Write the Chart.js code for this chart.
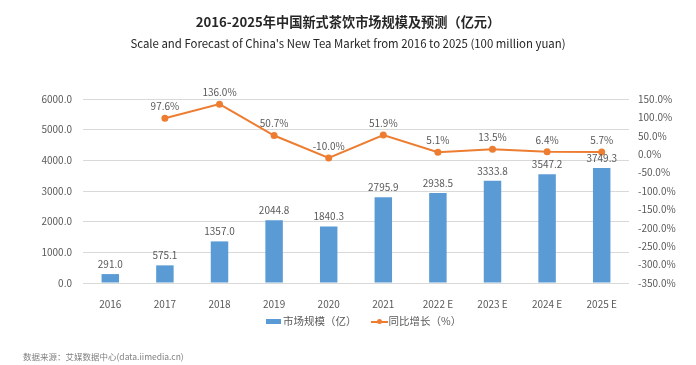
<!DOCTYPE html>
<html>
<head>
<meta charset="utf-8">
<script src="https://cdn.jsdelivr.net/npm/chart.js@4/dist/chart.umd.min.js"></script>
<style>
    body { margin: 0; background: #fff; }
    #wrap { position: relative; width: 696px; height: 365px; font-family: "Noto Sans CJK SC", "Noto Sans", sans-serif; }
    #chart { position: absolute; left: 0; top: 0; }
    .title { position: absolute; left: 0; width: 696px; text-align: center; color: #262626; white-space: nowrap; }
    #t1 { top: 12px; font-size: 13.2px; font-weight: bold; line-height: 20px; }
    #t2 { top: 34px; font-size: 11.4px; line-height: 18px; }
    #legend { position: absolute; top: 312px; left: 266px; font-size: 10.5px; color: #595959; white-space: nowrap; line-height: 16px; }
    #legend span { display: inline-block; vertical-align: middle; }
    .sw-bar { width: 15px; height: 5px; background: #5B9BD5; margin-right: 2px; }
    .sw-line { width: 17px; height: 7px; position: relative; margin-left: 14px; margin-right: 1px; }
    .sw-line:before { content: ""; position: absolute; left: 0; right: 0; top: 3px; height: 2px; background: #ED7D31; }
    .sw-line:after { content: ""; position: absolute; left: 6px; top: 1px; width: 5px; height: 5px; border-radius: 50%; background: #ED7D31; }
    #source { position: absolute; left: 23px; top: 350px; font-size: 8.5px; color: #808080; white-space: nowrap; }
</style>
</head>
<body>
<div id="wrap">
    <canvas id="chart" width="696" height="365"></canvas>
    <div class="title" id="t1">2016-2025年中国新式茶饮市场规模及预测（亿元）</div>
    <div class="title" id="t2">Scale and Forecast of China's New Tea Market from 2016 to 2025 (100 million yuan)</div>
    <div id="legend"><span class="sw-bar"></span><span>市场规模（亿）</span><span class="sw-line"></span><span>同比增长（%）</span></div>
    <div id="source">数据来源：艾媒数据中心(data.iimedia.cn)</div>
</div>
<script>
const years = ['2016', '2017', '2018', '2019', '2020', '2021', '2022 E', '2023 E', '2024 E', '2025 E'];
const marketSize = [291.0, 575.1, 1357.0, 2044.8, 1840.3, 2795.9, 2938.5, 3333.8, 3547.2, 3749.3];
const growthRate = [null, 97.6, 136.0, 50.7, -10.0, 51.9, 5.1, 13.5, 6.4, 5.7];

const labelColor = '#595959';
const tickFont = { family: '"Noto Sans CJK SC", "Noto Sans", sans-serif', size: 10 };

// draw value labels above bars and points
const valueLabels = {
    id: 'valueLabels',
    afterDatasetsDraw(chart) {
        const ctx = chart.ctx;
        ctx.save();
        ctx.font = '10px "Noto Sans CJK SC", "Noto Sans", sans-serif';
        ctx.fillStyle = labelColor;
        ctx.textAlign = 'center';
        ctx.textBaseline = 'middle';
        chart.getDatasetMeta(0).data.forEach((bar, i) => {
            ctx.fillText(marketSize[i].toFixed(1), bar.x, bar.y - 10);
        });
        chart.getDatasetMeta(1).data.forEach((pt, i) => {
            if (growthRate[i] === null) return;
            ctx.fillText(growthRate[i].toFixed(1) + '%', pt.x, pt.y - 12);
        });
        ctx.restore();
    }
};

new Chart(document.getElementById('chart').getContext('2d'), {
    type: 'bar',
    data: {
        labels: years,
        datasets: [{
            type: 'bar',
            label: '市场规模（亿）',
            data: marketSize,
            backgroundColor: '#5B9BD5',
            barPercentage: 0.32,
            categoryPercentage: 1,
            yAxisID: 'y',
            order: 2
        }, {
            type: 'line',
            label: '同比增长（%）',
            data: growthRate,
            borderColor: '#ED7D31',
            backgroundColor: '#ED7D31',
            borderWidth: 2,
            pointRadius: 2.5,
            tension: 0,
            yAxisID: 'y1',
            order: 1
        }]
    },
    options: {
        responsive: false,
        animation: false,
        layout: { padding: { top: 99, bottom: 0, left: 0, right: 0 } },
        plugins: {
            legend: { display: false },
            title: { display: false },
            tooltip: { enabled: false }
        },
        scales: {
            x: {
                grid: { display: false },
                border: { display: false },
                ticks: { color: labelColor, font: tickFont, padding: 7, maxRotation: 0 },
                afterFit(scale) { scale.height = 82; }
            },
            y: {
                position: 'left',
                min: 0,
                max: 6000,
                grid: { color: '#d9d9d9', drawTicks: false },
                border: { display: false },
                ticks: {
                    stepSize: 1000,
                    color: labelColor,
                    font: tickFont,
                    padding: 11,
                    callback: v => v.toFixed(1)
                },
                afterFit(scale) { scale.width = 83; }
            },
            y1: {
                position: 'right',
                min: -350,
                max: 150,
                grid: { display: false, drawTicks: false },
                border: { display: false },
                ticks: {
                    stepSize: 50,
                    color: labelColor,
                    font: tickFont,
                    padding: 9,
                    callback: v => v.toFixed(1) + '%'
                },
                afterFit(scale) { scale.width = 67; }
            }
        }
    },
    plugins: [valueLabels]
});
</script>
</body>
</html>
